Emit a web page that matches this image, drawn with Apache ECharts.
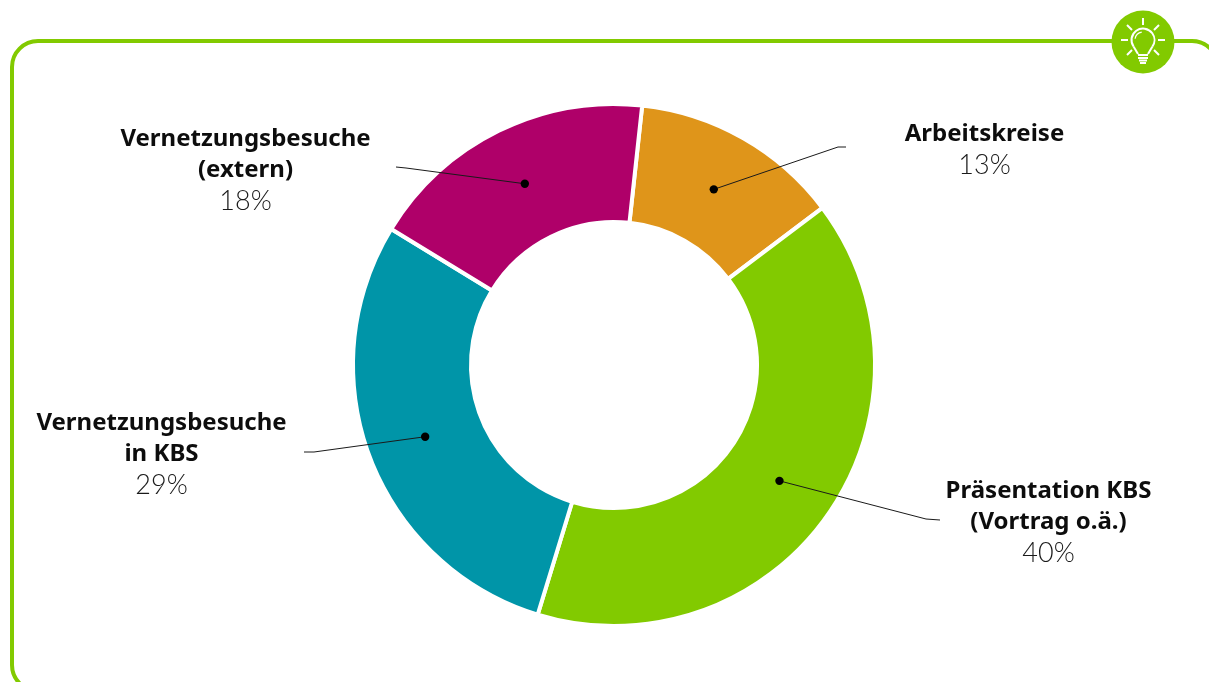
<!DOCTYPE html>
<html>
<head>
<meta charset="utf-8">
<style>html,body{margin:0;padding:0;background:#fff;overflow:hidden}#chart{width:1209px;height:682px}</style>
<script src="https://cdn.jsdelivr.net/npm/echarts@6/dist/echarts.min.js"></script>
</head>
<body>
<div id="chart"></div>
<script>
// Activity shares, clockwise from the top of the ring
const categories = ['Arbeitskreise', 'Präsentation KBS\n(Vortrag o.ä.)', 'Vernetzungsbesuche\nin KBS', 'Vernetzungsbesuche\n(extern)'];
const shares = [13, 40, 29, 18];
const colors = ['#DF951A', '#82CA00', '#0095A8', '#AF0069'];
const labelAnchors = [[984.5, 119], [1048.5, 475.5], [161.5, 407.5], [245.5, 123.5]];
const leaderEnds = [[846, 147], [940, 520], [304, 452], [396, 167]];
const leaderKnees = [[838, 147], [926, 519], [314, 452], [406, 168]];

const GREEN = '#82CA00';
const cx = 614, cy = 365, rOuter = 261, rInner = 143, startAngle = 83.8;
const total = shares.reduce((a, b) => a + b, 0);

// Centre of each slice's ring band, where its leader line starts
function sliceCentre(i) {
  const before = shares.slice(0, i).reduce((a, b) => a + b, 0);
  const deg = startAngle - (before + shares[i] / 2) / total * 360;
  const rad = deg * Math.PI / 180, r = (rOuter + rInner) / 2;
  return [cx + r * Math.cos(rad), cy - r * Math.sin(rad)];
}

const leaders = shares.flatMap((_, i) => {
  const p = sliceCentre(i);
  return [
    { type: 'polyline', z: 10, shape: { points: [p, leaderKnees[i], leaderEnds[i]] },
      style: { fill: null, stroke: '#1a1a1a', lineWidth: 1 } },
    { type: 'circle', z: 11, shape: { cx: p[0], cy: p[1], r: 4.2 }, style: { fill: '#000' } }
  ];
});

// Light bulb badge on the frame
const bx = 1143, by = 40;
const white = { stroke: '#fff', lineWidth: 2, fill: null };
const rays = [[0, -22, 0, -15], [16, -15, 11, -10], [-16, -15, -11, -10], [22, 0, 15, 0], [-22, 0, -15, 0], [16, 15, 11, 10], [-16, 15, -11, 10]];
const seg = (x1, y1, x2, y2, style) => ({ type: 'line', z: 6,
  shape: { x1: bx + x1, y1: by + y1, x2: bx + x2, y2: by + y2 }, style: style || white });
const badge = [
  { type: 'circle', z: 5, shape: { cx: bx, cy: 42, r: 31.5 }, style: { fill: GREEN } },
  ...rays.map(r => seg(r[0], r[1], r[2], r[3])),
  { type: 'arc', z: 6, shape: { cx: bx, cy: by, r: 11.5, startAngle: Math.PI * 0.8, endAngle: Math.PI * 2.2, clockwise: true }, style: white },
  { type: 'arc', z: 6, shape: { cx: bx, cy: by, r: 8, startAngle: Math.PI * 1.05, endAngle: Math.PI * 1.45, clockwise: true }, style: { stroke: '#fff', lineWidth: 1.2, fill: null } },
  seg(-9.3, 6.8, -5, 14),
  seg(9.3, 6.8, 5, 14),
  seg(-5, 15, 5, 15),
  seg(-5, 18, 5, 18),
  seg(-4, 20.5, 4, 20.5),
  seg(-3, 23, 3, 23)
];

const chart = echarts.init(document.getElementById('chart'), null, { renderer: 'canvas' });
chart.setOption({
  animation: false,
  backgroundColor: '#fff',
  graphic: [
    { type: 'rect', z: 1, shape: { x: 12, y: 41, width: 1206, height: 650, r: 26 },
      style: { fill: null, stroke: GREEN, lineWidth: 4 } },
    ...leaders,
    ...badge
  ],
  series: [{
    type: 'pie',
    center: [cx, cy],
    radius: [rInner, rOuter],
    startAngle: startAngle,
    clockwise: true,
    silent: true,
    itemStyle: { borderColor: '#fff', borderWidth: 4 },
    labelLine: { show: false },
    label: {
      show: true,
      align: 'center',
      formatter: p => `{name|${p.name.split('\n').join('}\n{name|')}}\n{pct|${p.value}%}`,
      rich: {
        name: { fontFamily: 'Noto Sans', fontWeight: 700, fontSize: 24, lineHeight: 31, color: '#0d0d0d', align: 'center' },
        pct: { fontFamily: 'Lato', fontWeight: 300, fontSize: 27, lineHeight: 31, color: '#1a1a1a', align: 'center' }
      }
    },
    labelLayout: p => ({ x: labelAnchors[p.dataIndex][0], y: labelAnchors[p.dataIndex][1], align: 'center', verticalAlign: 'top' }),
    data: categories.map((name, i) => ({ name, value: shares[i], itemStyle: { color: colors[i] } }))
  }]
});
</script>
</body>
</html>
